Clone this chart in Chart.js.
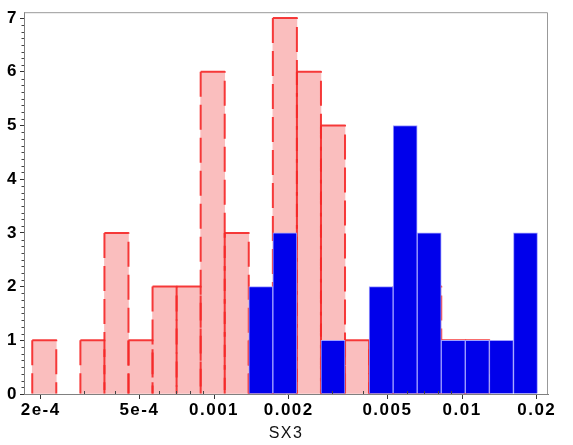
<!DOCTYPE html>
<html>
<head>
<meta charset="utf-8">
<script src="https://cdn.jsdelivr.net/npm/chart.js@4.4.1/dist/chart.umd.min.js"></script>
<style>
  html, body { margin: 0; padding: 0; background: #fff; }
</style>
</head>
<body>
<canvas id="hist" width="573" height="445"></canvas>
<script>
// bin edges (log spaced)
const binEdges = [1.849e-4, 2.312e-4, 2.891e-4, 3.614e-4, 4.519e-4, 5.649e-4, 7.063e-4,
  8.831e-4, 1.104e-3, 1.380e-3, 1.726e-3, 2.158e-3, 2.698e-3, 3.373e-3, 4.217e-3,
  5.272e-3, 6.592e-3, 8.241e-3, 1.030e-2, 1.288e-2, 1.611e-2, 2.014e-2];
const pinkCounts = [1, 0, 1, 3, 1, 2, 2, 6, 3, 1, 7, 6, 5, 1, 1, 2, 2, 1, 1, 0, 0];
const blueCounts = [0, 0, 0, 0, 0, 0, 0, 0, 0, 2, 3, 0, 1, 0, 2, 5, 3, 1, 1, 1, 3];

const xTickValues = [2e-4, 5e-4, 1e-3, 2e-3, 5e-3, 1e-2, 2e-2];
const xTickLabels = ['2e-4', '5e-4', '0.001', '0.002', '0.005', '0.01', '0.02'];
const xMinorValues = [3e-4, 4e-4, 6e-4, 7e-4, 8e-4, 9e-4, 3e-3, 4e-3, 6e-3, 7e-3, 8e-3, 9e-3];
const yTickValues = [0, 1, 2, 3, 4, 5, 6, 7];
const xTitle = 'SX3';

const fontFamily = "'Liberation Sans', Arial, sans-serif";

// centre of each bin on the log axis
const binCenters = binEdges.slice(1).map((e, i) => Math.sqrt(e * binEdges[i]));
function toPoints(counts) {
    return counts.map((c, i) => ({ x: binCenters[i], y: c > 0 ? c : null }));
}

// dashed red outline round the pink bars
const dashedOutline = {
    id: 'dashedOutline',
    afterDatasetDraw(chart, args) {
        if (args.index !== 0) return;
        const ctx = chart.ctx;
        ctx.save();
        ctx.setLineDash([25, 8]);
        ctx.lineWidth = 2;
        ctx.lineJoin = 'round';
        ctx.strokeStyle = 'rgba(245, 40, 40, 0.9)';
        args.meta.data.forEach((bar, i) => {
            if (!pinkCounts[i]) return;
            const { x, y, base, width } = bar.getProps(['x', 'y', 'base', 'width'], true);
            const l = x - width / 2, r = x + width / 2;
            ctx.beginPath();
            ctx.moveTo(l, y);
            ctx.lineTo(r, y);
            ctx.lineTo(r, base);
            ctx.moveTo(l, y);
            ctx.lineTo(l, base);
            ctx.stroke();
        });
        ctx.restore();
    }
};

// minor ticks and the top/right frame
const axisDecor = {
    id: 'axisDecor',
    beforeDraw(chart) {
        chart.ctx.letterSpacing = '1.5px';
    },
    afterDraw(chart) {
        const { ctx, chartArea: a, scales: { x, y } } = chart;
        ctx.save();
        ctx.strokeStyle = '#444';
        ctx.lineWidth = 1;
        ctx.beginPath();
        xMinorValues.forEach(v => {
            const px = Math.round(x.getPixelForValue(v)) + 0.5;
            ctx.moveTo(px, a.bottom);
            ctx.lineTo(px, a.bottom - 3);
        });
        for (let k = 0; k < 56; k++) {
            if (k % 8 === 0) continue;
            const py = Math.round(y.getPixelForValue(k / 8)) + 0.5;
            ctx.moveTo(a.left, py);
            ctx.lineTo(a.left - 2.5, py);
        }
        ctx.stroke();
        ctx.strokeStyle = '#999';
        ctx.beginPath();
        ctx.moveTo(a.left, a.top + 0.5);
        ctx.lineTo(a.right - 0.5, a.top + 0.5);
        ctx.lineTo(a.right - 0.5, a.bottom);
        ctx.stroke();
        ctx.restore();
    }
};

new Chart(document.getElementById('hist'), {
    type: 'bar',
    data: {
        datasets: [{
            label: 'pink',
            data: toPoints(pinkCounts),
            backgroundColor: 'rgb(250, 190, 190)',
            borderWidth: 0,
            grouped: false,
            barPercentage: 1,
            categoryPercentage: 1,
            order: 2
        }, {
            label: 'blue',
            data: toPoints(blueCounts),
            backgroundColor: 'rgb(0, 0, 235)',
            borderColor: 'rgb(160, 160, 255)',
            borderWidth: 1,
            grouped: false,
            barPercentage: 1,
            categoryPercentage: 1,
            order: 1
        }]
    },
    options: {
        responsive: false,
        animation: false,
        layout: { padding: { left: 0, right: 25, top: 10, bottom: 0 } },
        plugins: { legend: { display: false }, tooltip: { enabled: false } },
        scales: {
            x: {
                type: 'logarithmic',
                min: 1.713e-4,
                max: 0.0222,
                offset: false,
                afterBuildTicks: s => { s.ticks = xTickValues.map(v => ({ value: v })); },
                afterFit: s => { s.height = 51; },
                grid: { drawOnChartArea: false, offset: false, tickLength: 5, tickColor: '#333' },
                border: { color: '#808080', width: 1 },
                ticks: {
                    autoSkip: false, maxRotation: 0, padding: 1, color: '#000',
                    font: { family: fontFamily, size: 17, weight: 'bold' },
                    callback: (v, i) => xTickLabels[i]
                },
                title: {
                    display: true, text: xTitle, color: '#111',
                    font: { family: fontFamily, size: 16 },
                    padding: { top: 0, bottom: 2 }
                }
            },
            y: {
                min: 0,
                max: 7.11,
                afterBuildTicks: s => { s.ticks = yTickValues.map(v => ({ value: v })); },
                afterFit: s => { s.width = 24; },
                grid: { drawOnChartArea: false, tickLength: 4, tickColor: '#333' },
                border: { color: '#808080', width: 1 },
                ticks: {
                    padding: 2, color: '#000',
                    font: { family: fontFamily, size: 17, weight: 'bold' },
                    callback: v => String(v)
                }
            }
        }
    },
    plugins: [dashedOutline, axisDecor]
});
</script>
</body>
</html>
